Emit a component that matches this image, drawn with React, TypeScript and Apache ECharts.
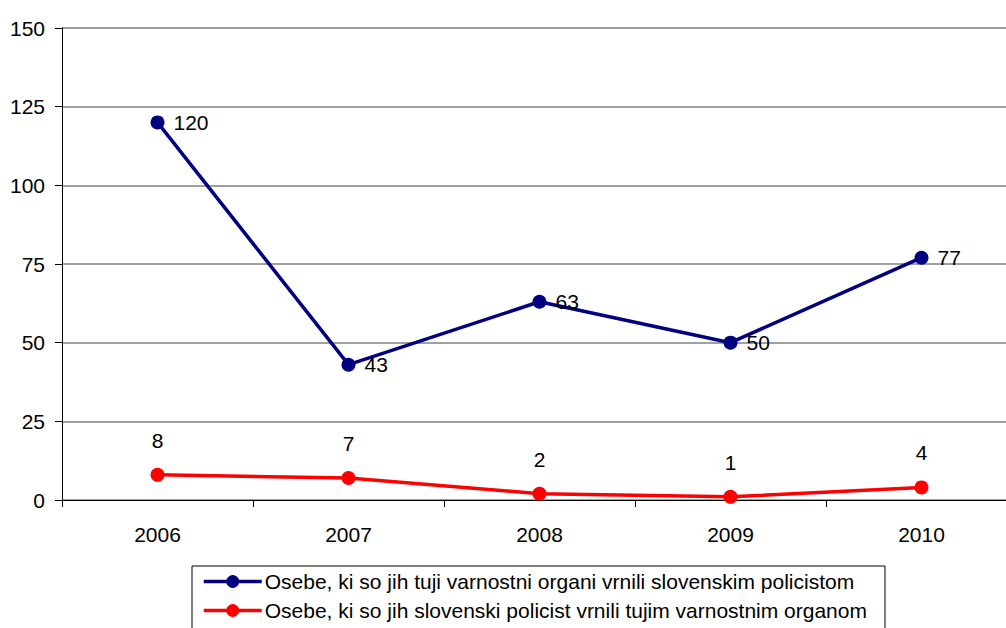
import React, { useEffect, useRef } from "react";
import * as echarts from "echarts";

const categories = ["2006", "2007", "2008", "2009", "2010"];
const seriesNames = [
  "Osebe, ki so jih tuji varnostni organi vrnili slovenskim policistom",
  "Osebe, ki so jih slovenski policist vrnili tujim varnostnim organom",
];
const returnedToSlovenia = [120, 43, 63, 50, 77];
const returnedAbroad = [8, 7, 2, 1, 4];
const yTicks = { min: 0, max: 150, interval: 25 };

const FONT = "'Liberation Sans', Arial, sans-serif";

export default function App() {
  const ref = useRef<HTMLDivElement>(null);
  useEffect(() => {
    if (!ref.current) return;
    const chart = echarts.init(ref.current, undefined, { renderer: "svg" });
    chart.setOption({
      animation: false,
      backgroundColor: "#ffffff",
      textStyle: { fontFamily: FONT },
      grid: { left: 62, top: 28, height: 472, width: 955, containLabel: false },
      legend: {
        orient: "vertical",
        left: 192,
        top: 566,
        padding: [5, 18, 10, 10],
        itemGap: 8,
        itemWidth: 58,
        itemHeight: 16,
        borderColor: "#000000",
        borderWidth: 1,
        lineStyle: { width: 3.5 },
        textStyle: { fontSize: 21, color: "#000000", fontFamily: FONT, padding: [0, 0, 0, -2] },
        data: seriesNames,
      },
      xAxis: {
        type: "category",
        data: categories,
        boundaryGap: true,
        axisLine: { lineStyle: { color: "#000000", width: 1 } },
        axisTick: { show: true, length: 7, alignWithLabel: false, lineStyle: { color: "#000000" } },
        axisLabel: { color: "#000000", fontSize: 21, margin: 24, fontFamily: FONT },
        splitLine: { show: false },
      },
      yAxis: {
        type: "value",
        min: yTicks.min,
        max: yTicks.max,
        interval: yTicks.interval,
        axisLine: { show: true, lineStyle: { color: "#000000", width: 1 } },
        axisTick: { show: true, length: 7, lineStyle: { color: "#000000" } },
        axisLabel: { color: "#000000", fontSize: 21, margin: 17, fontFamily: FONT },
        splitLine: { show: true, lineStyle: { color: "#808080", width: 1.5 } },
      },
      series: [
        {
          name: seriesNames[0],
          type: "line",
          data: returnedToSlovenia,
          symbol: "circle",
          symbolSize: 14,
          color: "#000080",
          lineStyle: { color: "#000080", width: 3.5 },
          itemStyle: { color: "#000080" },
          label: {
            show: true,
            position: "right",
            distance: 9,
            color: "#000000",
            fontSize: 21,
            fontFamily: FONT,
          },
          z: 3,
        },
        {
          name: seriesNames[1],
          type: "line",
          data: returnedAbroad,
          symbol: "circle",
          symbolSize: 14,
          color: "#ff0000",
          lineStyle: { color: "#ff0000", width: 3.5 },
          itemStyle: { color: "#ff0000" },
          label: {
            show: true,
            position: "top",
            distance: 17,
            color: "#000000",
            fontSize: 21,
            fontFamily: FONT,
          },
          z: 3,
        },
      ],
    });
    return () => chart.dispose();
  }, []);
  return (
    <div
      style={{ position: "absolute", left: 0, top: 0, width: 1006, height: 628, overflow: "hidden", background: "#fff" }}
    >
      <div ref={ref} style={{ width: 1030, height: 680 }} />
    </div>
  );
}
